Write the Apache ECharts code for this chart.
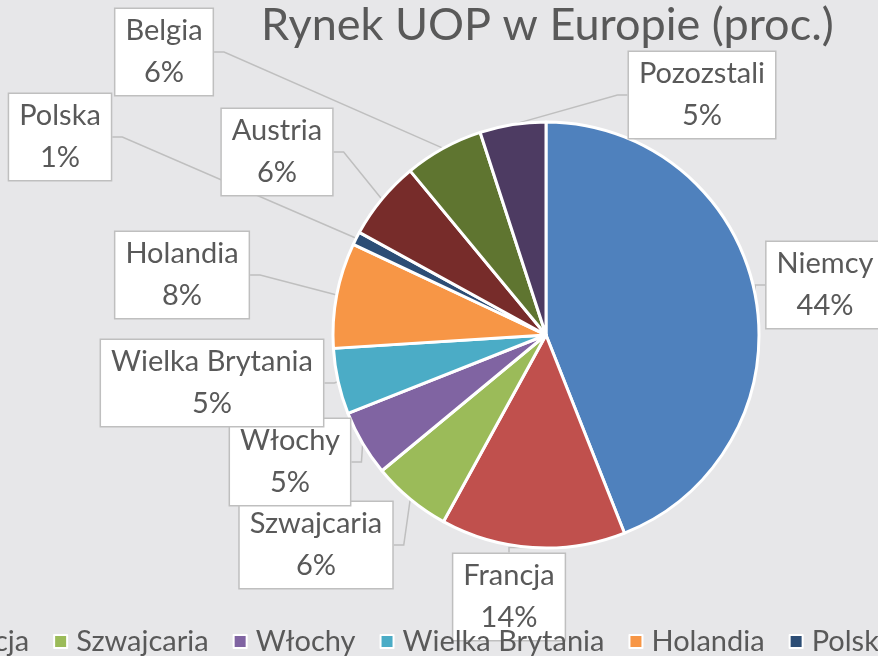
<!DOCTYPE html>
<html>
<head>
<meta charset="utf-8">
<script src="https://cdn.jsdelivr.net/npm/echarts@6/dist/echarts.min.js"></script>
<style>
  html, body { margin: 0; padding: 0; background: #e7e7e9; }
  #main { width: 878px; height: 656px; }
</style>
</head>
<body>
<div id="main"></div>
<script>
// dane z wykresu
const countries = ['Niemcy', 'Francja', 'Szwajcaria', 'Włochy', 'Wielka Brytania', 'Holandia', 'Polska', 'Austria', 'Belgia', 'Pozozstali'];
const shares = [44, 14, 6, 5, 5, 8, 1, 6, 6, 5];
const colors = ['#4f81bd', '#c0504d', '#9bbb59', '#8064a2', '#4bacc6', '#f79646', '#2c4d75', '#772c2a', '#5f7530', '#4d3b62'];

// where each callout box sits (centre of box)
const labelPos = [
  [825, 285], [509, 597], [316, 545], [290, 462], [212, 383],
  [182, 275], [60, 137], [277, 152], [164, 52], [702, 95]
];

const chart = echarts.init(document.getElementById('main'));
const font = 'Lato, "Open Sans", sans-serif';

chart.setOption({
  backgroundColor: '#e7e7e9',
  color: colors,
  title: {
    text: 'Rynek UOP w Europie (proc.)',
    left: 256,
    top: -2,
    textStyle: { color: '#595959', fontSize: 45, fontWeight: 'normal', fontFamily: font }
  },
  legend: {
    orient: 'horizontal',
    left: -234,
    top: 622,
    width: 3000,
    itemWidth: 13,
    itemHeight: 13,
    itemGap: 24,
    icon: 'rect',
    textStyle: { color: '#595959', fontSize: 29, fontFamily: font, padding: [0, 0, 0, 4] },
    data: countries
  },
  series: [{
    type: 'pie',
    center: [546, 335],
    radius: 213,
    startAngle: 90,
    clockwise: true,
    avoidLabelOverlap: false,
    itemStyle: { borderColor: '#fff', borderWidth: 3 },
    label: {
      show: true,
      formatter: '{b}\n{c}%',
      color: '#595959',
      fontSize: 29,
      lineHeight: 42,
      fontFamily: font,
      backgroundColor: '#fff',
      borderColor: '#bfbfbf',
      borderWidth: 1.5,
      padding: [1, 10],
      align: 'center'
    },
    labelLine: {
      show: true,
      length: 10,
      length2: 10,
      lineStyle: { color: '#bfbfbf', width: 1.5 }
    },
    labelLayout: function (p) {
      const pos = labelPos[p.dataIndex];
      return { x: pos[0], y: pos[1], align: 'center', verticalAlign: 'middle' };
    },
    data: countries.map((n, i) => ({ name: n, value: shares[i] }))
  }]
});
</script>
</body>
</html>
